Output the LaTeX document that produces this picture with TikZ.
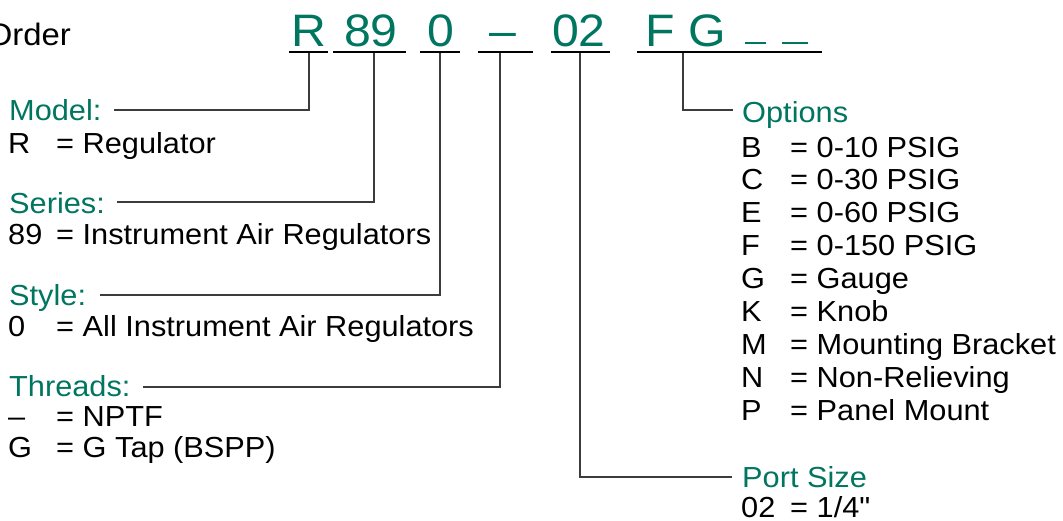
\documentclass[tikz,border=0pt]{standalone}
\usepackage{fontspec}
\newfontfamily\sfont{Liberation Sans}[FakeStretch=1.06]
\definecolor{codegreen}{RGB}{0,117,96}
\definecolor{conngray}{RGB}{60,60,60}
\tikzset{
  x=1pt, y=1pt,
  code/.style={text=codegreen, font=\sfont\fontsize{45.5}{50}\selectfont, inner sep=0pt, anchor=base},
  lbl/.style={text=codegreen, font=\sfont\fontsize{29}{33}\selectfont, inner sep=0pt, anchor=base west},
  row/.style={text=black, font=\sfont\fontsize{29}{33}\selectfont, inner sep=0pt, anchor=base west},
  uline/.style={line width=2.2pt, draw=black},
  blank/.style={line width=2.4pt, draw=codegreen},
  conn/.style={line width=1.2pt, draw=conngray},
}
\newcommand{\lkey}[1]{\makebox[48pt][l]{#1}}
\newcommand{\rkey}[1]{\makebox[49pt][l]{#1}}
\begin{document}
\begin{tikzpicture}
\useasboundingbox (0,0) rectangle (1063,-520);
\clip (0,0) rectangle (1063,-520);

% title
\node[row, anchor=base east, font=\sfont\fontsize{31}{35}\selectfont] (title) at (71,-45) {Order};

% code characters
\node[code] (cR)   at (309,-46) {R};
\node[code] (c89)  at (371,-46) {89};
\node[code] (c0)   at (441,-46) {0};
\node[code] (cD)   at (503,-46) {–};
\node[code] (c02)  at (579,-46) {02};
\node[code] (cFG)  at (686,-46) {F G};
\draw[blank] (745,-43) -- (766,-43);
\draw[blank] (782,-43) -- (808,-43);

% underlines
\draw[uline] (289,-52) -- (328,-52);
\draw[uline] (333,-52) -- (406,-52);
\draw[uline] (420,-52) -- (460,-52);
\draw[uline] (478,-52) -- (533,-52);
\draw[uline] (551,-52) -- (610,-52);
\draw[uline] (637,-52) -- (822,-52);

\coordinate (uR)  at (309,-53);
\coordinate (u89) at (374,-53);
\coordinate (u0)  at (440,-53);
\coordinate (uD)  at (500,-53);
\coordinate (u02) at (580,-53);
\coordinate (uFG) at (683,-53);

% left labels
\node[lbl] (lModel) at (9,-120) {Model:};
\node[row] (rR) at (8,-153) {\lkey{R}= Regulator};

\node[lbl] (lSeries) at (9,-213) {Series:};
\node[row] (r89) at (8,-244) {\lkey{89}= Instrument Air Regulators};

\node[lbl] (lStyle) at (9,-305) {Style:};
\node[row] (r0) at (8,-336) {\lkey{0}= All Instrument Air Regulators};

\node[lbl] (lThreads) at (9,-396) {Threads:};
\node[row] (rDash) at (8,-426) {\lkey{–}= NPTF};
\node[row] (rG) at (8,-457) {\lkey{G}= G Tap (BSPP)};

% right labels
\node[lbl] (lOptions) at (742,-122) {Options};
\node[row] (oB) at (741,-157) {\rkey{B}= 0-10 PSIG};
\node[row] (oC) at (741,-189) {\rkey{C}= 0-30 PSIG};
\node[row] (oE) at (741,-222) {\rkey{E}= 0-60 PSIG};
\node[row] (oF) at (741,-255) {\rkey{F}= 0-150 PSIG};
\node[row] (oG) at (741,-288) {\rkey{G}= Gauge};
\node[row] (oK) at (741,-321) {\rkey{K}= Knob};
\node[row] (oM) at (741,-354) {\rkey{M}= Mounting Bracket};
\node[row] (oN) at (741,-387) {\rkey{N}= Non-Relieving};
\node[row] (oP) at (741,-420) {\rkey{P}= Panel Mount};

\node[lbl] (lPort) at (742,-487) {Port Size};
\node[row] (p02) at (741,-517) {\rkey{02}= 1/4"};

% connectors
\draw[conn] (uR)  |- ([xshift=12pt,yshift=10pt]lModel.base east);
\draw[conn] (u89) |- ([xshift=12pt,yshift=11pt]lSeries.base east);
\draw[conn] (u0)  |- ([xshift=14pt,yshift=10pt]lStyle.base east);
\draw[conn] (uD)  |- ([xshift=12pt,yshift=9pt]lThreads.base east);
\draw[conn] (uFG) |- ([xshift=-9pt,yshift=12pt]lOptions.base west);
\draw[conn] (u02) |- ([xshift=-10pt,yshift=10pt]lPort.base west);
\end{tikzpicture}
\end{document}
